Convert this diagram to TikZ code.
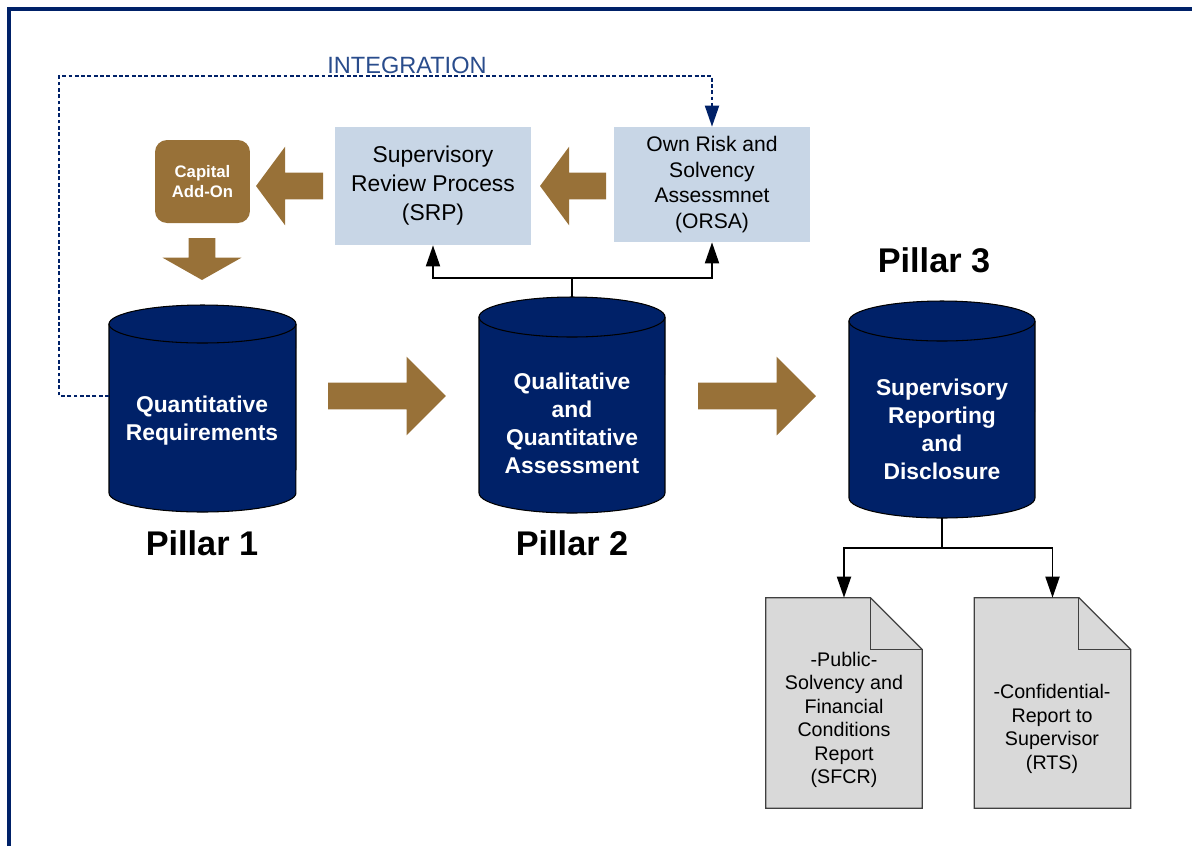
\documentclass[tikz,border=0pt]{standalone}
\usepackage{fontspec}
\setmainfont{Liberation Sans}
\usetikzlibrary{arrows.meta,shapes.arrows}
\definecolor{pnavy}{RGB}{0,33,104}
\definecolor{pbrown}{RGB}{152,113,56}
\definecolor{pblue}{RGB}{200,214,230}
\definecolor{pgray}{RGB}{217,217,217}
\definecolor{pline}{RGB}{64,64,64}
\definecolor{pinteg}{RGB}{41,76,140}
\begin{document}
\begin{tikzpicture}[x=0.02cm,y=-0.02cm,
    pillar/.style={draw=black,line width=0.6pt,fill=pnavy},
    pillartext/.style={text=white,font=\fontsize{13}{16}\selectfont\bfseries,align=center},
    pillarname/.style={font=\fontsize{19.5}{22}\selectfont\bfseries},
    review/.style={fill=pblue,minimum width=3.92cm,align=center,inner sep=0pt},
    docbody/.style={minimum width=3.12cm,minimum height=4.2cm,inner sep=0pt},
    docline/.style={fill=pgray,draw=pline,line width=0.7pt},
    doctext/.style={font=\fontsize{11.2}{13.4}\selectfont,align=center},
    blockarrow/.style={single arrow,fill=pbrown,inner xsep=0pt,inner ysep=0.26cm,outer sep=0pt,single arrow head extend=0.52cm,anchor=tail},
    conn/.style={-{Triangle[length=12pt,width=8pt]},line width=1.1pt},
    integ/.style={-{Triangle[length=12pt,width=8pt]},draw=pnavy,line width=1.1pt,dash pattern=on 2.2pt off 1.4pt}]
  \useasboundingbox (0,0) rectangle (1192,846);
  % frame
  \draw[pnavy,line width=2.3pt] (9,846) -- (9,9) -- (1192,9);

  % pillars
  \draw[pillar] (109,324) -- (109,493) arc[start angle=180,end angle=360,x radius=1.87cm,y radius=0.38cm]
                -- (296,324) arc[start angle=0,end angle=180,x radius=1.87cm,y radius=0.38cm] -- cycle;
  \draw[pillar,fill=none] (109,324) arc[start angle=180,end angle=360,x radius=1.87cm,y radius=0.38cm];
  \draw[pillar] (479,317) -- (479,493) arc[start angle=180,end angle=360,x radius=1.86cm,y radius=0.4cm]
                -- (665,317) arc[start angle=0,end angle=180,x radius=1.86cm,y radius=0.4cm] -- cycle;
  \draw[pillar,fill=none] (479,317) arc[start angle=180,end angle=360,x radius=1.86cm,y radius=0.4cm];
  \draw[pillar] (849,321) -- (849,498) arc[start angle=180,end angle=360,x radius=1.86cm,y radius=0.4cm]
                -- (1035,321) arc[start angle=0,end angle=180,x radius=1.86cm,y radius=0.4cm] -- cycle;
  \draw[pillar,fill=none] (849,321) arc[start angle=180,end angle=360,x radius=1.86cm,y radius=0.4cm];

  \node[pillartext] (qreq)  at (202,421) {Quantitative\\Requirements};
  \node[pillartext] (qqa)   at (572,423) {Qualitative\\and\\Quantitative\\Assessment};
  \node[pillartext] (srd)   at (942,429) {Supervisory\\Reporting\\and\\Disclosure};
  \node[pillarname] (pil1)  at (202,543) {Pillar 1};
  \node[pillarname] (pil2)  at (572,543) {Pillar 2};
  \node[pillarname] (pil3)  at (934,260) {Pillar 3};
  \coordinate (p1side) at (109,396);
  \coordinate (p2top)  at (572,297);
  \coordinate (split2) at (572,278);
  \coordinate (p3bot)  at (942,518);
  \coordinate (split3) at (942,548);

  % pillar 2 boxes
  \node[review,minimum height=2.36cm,font=\fontsize{13}{16.5}\selectfont] (srp)  at (433,186)   {Supervisory\\Review Process\\(SRP)};
  \node[review,minimum height=2.3cm,font=\fontsize{12}{14.7}\selectfont]  (orsa) at (712,184.5) {Own Risk and\\Solvency\\Assessmnet\\(ORSA)};
  \node[fill=pbrown,rounded corners=0.24cm,minimum width=1.9cm,minimum height=1.66cm,text=white,
        font=\fontsize{9.5}{11.3}\selectfont\bfseries,align=center] (addon) at (202.5,181.5) {Capital\\Add-On};

  % block arrows
  \node[blockarrow,minimum height=2.36cm,single arrow tip angle=90]                  (arrA) at (328,396) {};
  \node[blockarrow,minimum height=2.36cm,single arrow tip angle=90]                  (arrB) at (698,396) {};
  \node[blockarrow,minimum height=1.32cm,single arrow tip angle=107,rotate=180]      (arrC) at (606,186) {};
  \node[blockarrow,minimum height=1.34cm,single arrow tip angle=107,rotate=180]      (arrD) at (323,186) {};
  \node[blockarrow,minimum height=0.84cm,single arrow tip angle=121,rotate=-90]      (arrE) at (202,238) {};

  \draw[line width=1.1pt] (p2top) -- (split2);
  \draw[conn] (split2) -| (srp.south);
  \draw[conn] (split2) -| (orsa.south);

  \draw[integ] (p1side) -| (59,76) -| (orsa.north);
  \node[text=pinteg,font=\fontsize{13.4}{16}\selectfont] (integ) at (407,65) {INTEGRATION};

  % reports
  \node[docbody] (sfcr) at (844,703)   {};
  \node[docbody] (rts)  at (1052.5,703) {};
  \filldraw[docline] (sfcr.north west) -- ([xshift=-1.04cm]sfcr.north east) -- ([yshift=-1.04cm]sfcr.north east)
                     -- (sfcr.south east) -- (sfcr.south west) -- cycle;
  \draw[docline,fill=none] ([xshift=-1.04cm]sfcr.north east) |- ([yshift=-1.04cm]sfcr.north east);
  \filldraw[docline] (rts.north west) -- ([xshift=-1.04cm]rts.north east) -- ([yshift=-1.04cm]rts.north east)
                     -- (rts.south east) -- (rts.south west) -- cycle;
  \draw[docline,fill=none] ([xshift=-1.04cm]rts.north east) |- ([yshift=-1.04cm]rts.north east);
  \node[doctext] (sfcrtxt) at (844,720)  {-Public-\\Solvency and\\Financial\\Conditions\\Report\\(SFCR)};
  \node[doctext] (rtstxt)  at (1052,729) {-Confidential-\\Report to\\Supervisor\\(RTS)};

  \draw[line width=1.1pt] (p3bot) -- (split3);
  \draw[conn] (split3) -| (sfcr.north);
  \draw[conn] (split3) -| (rts.north);
\end{tikzpicture}
\end{document}
